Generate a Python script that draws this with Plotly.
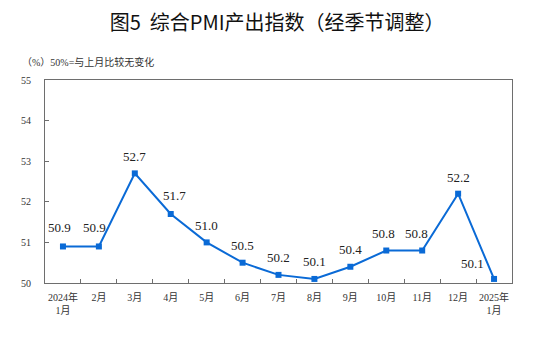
import plotly.graph_objects as go

months = ["2024年<br>1月", "2月", "3月", "4月", "5月", "6月", "7月", "8月",
          "9月", "10月", "11月", "12月", "2025年<br>1月"]
pmi = [50.9, 50.9, 52.7, 51.7, 51.0, 50.5, 50.2, 50.1, 50.4, 50.8, 50.8, 52.2, 50.1]
labels = ["50.9", "50.9", "52.7", "51.7", "51.0", "50.5", "50.2", "50.1",
          "50.4", "50.8", "50.8", "52.2", "50.1"]
y_ticks = [50, 51, 52, 53, 54, 55]

# label offsets in pixels (style only)
label_dx = [-3, -4, 0, 4, 0, 0, 0, 0, 0, -3, -6, 0, -22]
label_dy = [19, 19, 17, 18, 17, 17, 17, 17, 17, 17, 17, 16, 15]

SERIF = "Liberation Serif, Times New Roman, Noto Sans CJK SC, serif"
BLUE = "#0a6ad6"
AXIS = "#6e6e6e"

fig = go.Figure()
fig.add_trace(go.Scatter(
    x=months, y=pmi, mode="lines+markers",
    line=dict(color=BLUE, width=2),
    marker=dict(symbol="square", size=6, color=BLUE),
    hoverinfo="skip", showlegend=False,
))

for m, v, t, dx, dy in zip(months, pmi, labels, label_dx, label_dy):
    fig.add_annotation(x=m, y=v, text=t, showarrow=False,
                       xanchor="center", yanchor="middle",
                       xshift=dx, yshift=dy,
                       font=dict(family=SERIF, size=13, color="#222"))

fig.add_annotation(xref="paper", yref="paper", x=(20 - 45) / 467, y=(283 - 62.5) / 203,
                   xanchor="left", yanchor="middle", showarrow=False,
                   text="（%）50%=与上月比较无变化",
                   font=dict(family=SERIF, size=10, color="#333"))

fig.update_layout(
    width=533, height=341,
    margin=dict(l=45, r=21, t=80, b=58),
    paper_bgcolor="white", plot_bgcolor="white",
    title=dict(text="图5  综合PMI产出指数（经季节调整）", x=0.52, xanchor="center",
               y=1 - 23 / 341, yanchor="middle",
               font=dict(family="Noto Sans CJK SC", size=20, color="#111")),
    xaxis=dict(
        type="category", range=[-0.5, len(months) - 0.5],
        tickson="boundaries", ticks="inside", ticklen=4, tickcolor=AXIS,
        showline=True, linecolor=AXIS, linewidth=1, mirror=True,
        showgrid=False, tickangle=0,
        tickfont=dict(family=SERIF, size=10, color="#333"),
        ticklabelstandoff=5,
    ),
    yaxis=dict(
        range=[50, 55], tickvals=y_ticks, ticks="inside", ticklen=4, tickcolor=AXIS,
        showline=True, linecolor=AXIS, linewidth=1, mirror=True,
        showgrid=False, zeroline=False,
        tickfont=dict(family=SERIF, size=10, color="#333"),
        ticklabelstandoff=11,
    ),
)

fig.write_html("out.html")
